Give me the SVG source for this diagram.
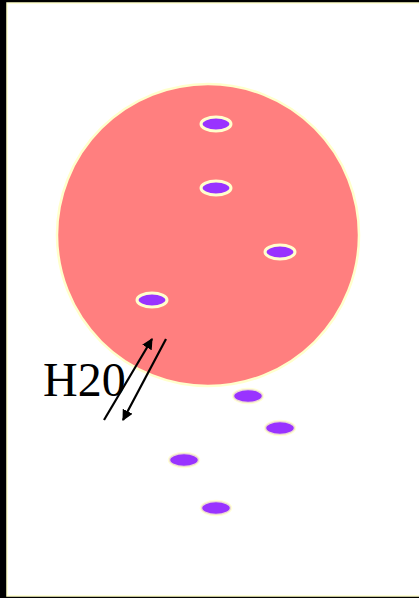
<svg xmlns="http://www.w3.org/2000/svg" width="419" height="598" viewBox="0 0 419 598">
<defs>
<style>
.p{fill:#9933ff;stroke:#ffffcc;stroke-width:3}
.q{fill:#9933ff;stroke:#ffffcc;stroke-width:2.5;stroke-opacity:0.8}
.a{stroke:#000;stroke-width:2.2;fill:none}
</style>
<marker id="ah" viewBox="0 0 10 10" refX="9" refY="5" markerWidth="5" markerHeight="5" orient="auto" markerUnits="strokeWidth">
<path d="M0,0 L10,5 L0,10 z" fill="#000"/>
</marker>
</defs>
<rect x="0" y="0" width="419" height="598" fill="#000"/>
<rect x="7" y="3" width="413" height="593" fill="#fff" stroke="#ffffcc" stroke-width="1.5"/>
<g id="cell"><circle cx="208" cy="235" r="151" fill="#ff7f7f" stroke="#ffffcc" stroke-width="2.5"/></g>
<g id="p1"><ellipse class="p" cx="216" cy="124" rx="15" ry="7"/></g>
<g id="p2"><ellipse class="p" cx="216" cy="188" rx="15" ry="7"/></g>
<g id="p3"><ellipse class="p" cx="280" cy="252" rx="15" ry="7"/></g>
<g id="p4"><ellipse class="p" cx="152" cy="300" rx="15" ry="7"/></g>
<g id="p5"><ellipse class="q" cx="248" cy="396" rx="15" ry="7"/></g>
<g id="p6"><ellipse class="q" cx="280" cy="428" rx="15" ry="7"/></g>
<g id="p7"><ellipse class="q" cx="184" cy="460" rx="15" ry="7"/></g>
<g id="p8"><ellipse class="q" cx="216" cy="508" rx="15" ry="7"/></g>
<g id="label"><text x="43" y="396" font-family="Liberation Serif, serif" font-size="48" fill="#000">H20</text></g>
<g id="connectors">
<line class="a" x1="104" y1="420" x2="152" y2="339" marker-end="url(#ah)"/>
<line class="a" x1="166" y1="339" x2="123" y2="420" marker-end="url(#ah)"/>
</g>
</svg>
